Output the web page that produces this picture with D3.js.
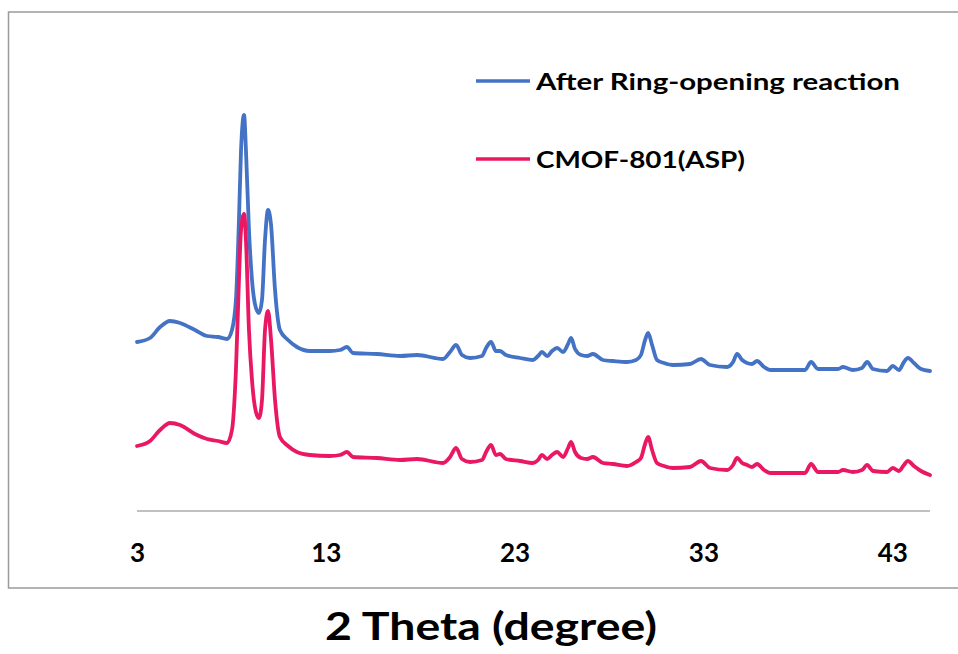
<!DOCTYPE html>
<html>
<head>
<meta charset="utf-8">
<script src="https://cdn.jsdelivr.net/npm/d3@7/dist/d3.min.js"></script>
<style>
  html, body { margin: 0; padding: 0; background: #ffffff; }
  svg { display: block; }
  text { font-family: Lato, "Open Sans", sans-serif; font-weight: 700; fill: #000; }
</style>
</head>
<body>
<svg id="chart" width="958" height="654"></svg>
<script>
// 2θ sampling positions (degrees), shared by both patterns
const twoTheta = [
  3.00, 3.69, 4.22, 4.75, 5.28, 6.07, 6.71, 7.29, 7.77, 8.03,
  8.24, 8.40, 8.51, 8.67, 8.77, 8.93, 9.09, 9.30, 9.46, 9.62,
  9.78, 9.94, 10.10, 10.31, 10.57, 11.00, 11.47, 12.16, 13.22, 13.75,
  14.12, 14.44, 15.71, 16.93, 17.83, 19.21, 19.58, 19.90, 20.21, 20.64,
  21.27, 21.49, 21.75, 22.01, 22.23, 22.54, 23.29, 23.97, 24.24, 24.45,
  24.72, 24.98, 25.25, 25.57, 25.83, 25.99, 26.20, 26.52, 26.84, 27.15,
  27.68, 28.21, 28.95, 29.43, 29.69, 29.91, 30.07, 30.28, 30.54, 30.91,
  31.39, 32.29, 32.87, 33.35, 34.25, 34.57, 34.78, 35.05, 35.31, 35.57,
  35.84, 36.21, 36.53, 38.38, 38.70, 39.07, 40.13, 40.39, 40.92, 41.40,
  41.67, 41.98, 42.72, 43.03, 43.36, 43.62, 43.83, 44.15, 44.52, 45.00
];

// Intensity (a.u., stacked offset) after the ring-opening reaction
const afterRingOpening = [
  169, 173, 184, 190, 188, 181, 175, 174, 172, 181,
  211, 291, 361, 396, 361, 281, 231, 203, 198, 211,
  271, 301, 286, 221, 181, 171, 164, 160, 160, 161,
  164, 158, 157, 155, 156, 152, 159, 166, 156, 153,
  155, 163, 169, 160, 160, 156, 153, 151, 155, 159,
  155, 160, 163, 159, 167, 173, 162, 156, 155, 157,
  151, 150, 149, 151, 156, 171, 178, 166, 151, 148,
  146, 147, 152, 146, 144, 149, 157, 151, 148, 147,
  150, 144, 141, 141, 149, 142, 142, 144, 141, 143,
  149, 142, 140, 145, 141, 149, 153, 148, 142, 140
];

// Intensity (a.u.) of the pristine CMOF-801(ASP)
const cmof801 = [
  65, 70, 81, 88, 86, 77, 72, 70, 68, 81,
  141, 231, 281, 297, 271, 181, 131, 99, 93, 111,
  181, 200, 171, 111, 74, 65, 59, 56, 55, 56,
  59, 54, 53, 51, 52, 48, 54, 63, 52, 49,
  51, 59, 66, 56, 57, 52, 50, 48, 51, 56,
  52, 56, 59, 54, 63, 69, 59, 53, 52, 54,
  48, 47, 45, 49, 53, 67, 74, 61, 48, 45,
  43, 44, 50, 43, 41, 46, 53, 48, 46, 44,
  47, 41, 38, 38, 47, 39, 39, 41, 39, 41,
  46, 40, 39, 43, 40, 46, 50, 45, 40, 36
];

const seriesNames = ["After Ring-opening reaction", "CMOF-801(ASP)"];
const seriesColors = ["#4472C4", "#EA1763"];
const xTickValues = [3, 13, 23, 33, 43];
const xAxisTitle = "2 Theta (degree)";

const svg = d3.select("#chart");

// chart frame
svg.append("rect")
  .attr("x", 8.5).attr("y", 12)
  .attr("width", 960).attr("height", 576)
  .attr("fill", "none")
  .attr("stroke", "#9a9a9a")
  .attr("stroke-width", 1.5);

const x = d3.scaleLinear().domain([3, 45]).range([137, 930]);
const y = d3.scaleLinear().domain([0, 480]).range([511, 31]);

// x axis: plain grey baseline with bold labels, no tick marks
const xAxis = d3.axisBottom(x)
  .tickValues(xTickValues)
  .tickSize(0)
  .tickPadding(0)
  .tickFormat(d3.format("d"));

const gx = svg.append("g")
  .attr("transform", `translate(0,${y(0)})`)
  .call(xAxis);
gx.select(".domain")
  .attr("stroke", "#c0c0c0")
  .attr("stroke-width", 2.2)
  .attr("d", `M${x(3)},0H${x(45)}`);
gx.selectAll(".tick text")
  .attr("dy", null)
  .attr("y", 51)
  .style("font-family", "Lato, sans-serif")
  .style("font-weight", 700)
  .style("font-size", "26px")
  .attr("fill", "#000");

// axis title
svg.append("text")
  .attr("x", 491)
  .attr("y", 640)
  .attr("text-anchor", "middle")
  .attr("textLength", 332)
  .attr("lengthAdjust", "spacingAndGlyphs")
  .style("font-size", "38px")
  .text(xAxisTitle);

// diffraction patterns
const seriesData = [afterRingOpening, cmof801];
const line = d3.line()
  .x((d, i) => x(twoTheta[i]))
  .y(d => y(d))
  .curve(d3.curveMonotoneX);

svg.append("g")
  .selectAll("path")
  .data(seriesData)
  .join("path")
  .attr("d", d => line(d))
  .attr("fill", "none")
  .attr("stroke", (d, i) => seriesColors[i])
  .attr("stroke-width", 3.8)
  .attr("stroke-linejoin", "round")
  .attr("stroke-linecap", "round");

// legend
const legendY = [81, 159];
const legendTextLen = [364, 209];
const legend = svg.append("g");
seriesNames.forEach((name, i) => {
  legend.append("line")
    .attr("x1", 476).attr("x2", 530)
    .attr("y1", legendY[i]).attr("y2", legendY[i])
    .attr("stroke", seriesColors[i])
    .attr("stroke-width", 3.5);
  legend.append("text")
    .attr("x", 536)
    .attr("y", legendY[i] + 8.5)
    .attr("textLength", legendTextLen[i])
    .attr("lengthAdjust", "spacingAndGlyphs")
    .style("font-size", "23px")
    .text(name);
});
</script>
</body>
</html>
